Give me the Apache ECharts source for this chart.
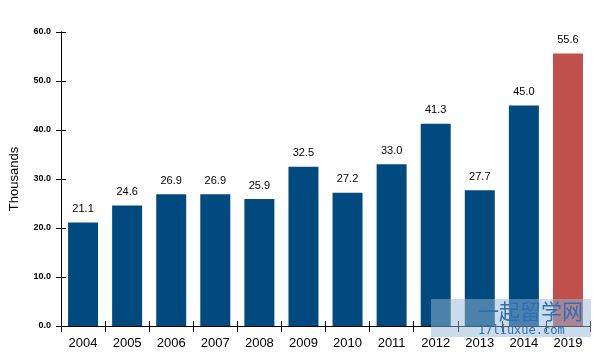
<!DOCTYPE html>
<html><head><meta charset="utf-8">
<script src="https://cdn.jsdelivr.net/npm/echarts@6/dist/echarts.min.js"></script>
<style>html,body{margin:0;padding:0;background:#fff}#c{width:596px;height:356px}</style>
</head><body><div id="c"></div>
<script>
var years = ['2004','2005','2006','2007','2008','2009','2010','2011','2012','2013','2014','2019'];
var values = [21.1,24.6,26.9,26.9,25.9,32.5,27.2,33.0,41.3,27.7,45.0,55.6];
var yTicks = [0,10,20,30,40,50,60];
var blue = '#004A7F', red = '#C0504D';
var chart = echarts.init(document.getElementById('c'));
var yBase = {type:'value',min:0,max:60,interval:10,position:'left',
  axisLine:{show:true,lineStyle:{color:'#000',width:1}},splitLine:{show:false}};
var xBase = {type:'category',data:years,position:'bottom',
  axisLine:{show:true,lineStyle:{color:'#000',width:1}}};
chart.setOption({
  animation:false,
  grid:{left:57,right:6,top:32,bottom:30},
  xAxis:[
    Object.assign({},xBase,{axisTick:{show:true,inside:false,length:6,lineStyle:{color:'#000'}},
      axisLabel:{color:'#000',fontSize:13,fontFamily:'Liberation Sans',margin:11}}),
    Object.assign({},xBase,{axisTick:{show:true,inside:true,length:5,lineStyle:{color:'#000'}},axisLabel:{show:false}})
  ],
  yAxis:[
    Object.assign({},yBase,{name:'Thousands',nameLocation:'middle',nameGap:40,nameRotate:90,
      nameTextStyle:{color:'#000',fontSize:13,fontFamily:'Liberation Sans'},
      axisTick:{show:true,inside:false,length:5,lineStyle:{color:'#000'}},
      axisLabel:{color:'#000',fontSize:9,fontWeight:'bold',fontFamily:'Liberation Sans',margin:10,
        formatter:function(v){return v.toFixed(1);}}}),
    Object.assign({},yBase,{axisTick:{show:true,inside:true,length:5,lineStyle:{color:'#000'}},axisLabel:{show:false}})
  ],
  series:[{type:'bar',barWidth:30,data:values.map(function(v,i){
      return {value:v,itemStyle:{color:i===values.length-1?red:blue}};}),
    label:{show:true,position:'top',distance:8,color:'#000',fontSize:11,fontFamily:'Liberation Sans',
      formatter:function(p){return p.value.toFixed(1);}}}],
  graphic:[
    {type:'rect',shape:{x:431,y:299,width:160,height:38},style:{fill:'rgba(150,185,215,0.5)'},z:100},
    {type:'text',left:478,top:301,style:{text:'一起留学网',fill:'#2c6fb7',fontSize:21,fontFamily:'Noto Sans CJK SC'},z:101},
    {type:'text',left:478,top:325,style:{text:'17liuxue.com',fill:'#2c6fb7',fontSize:12,fontFamily:'DejaVu Sans Mono'},z:101}
  ]
});
</script></body></html>
